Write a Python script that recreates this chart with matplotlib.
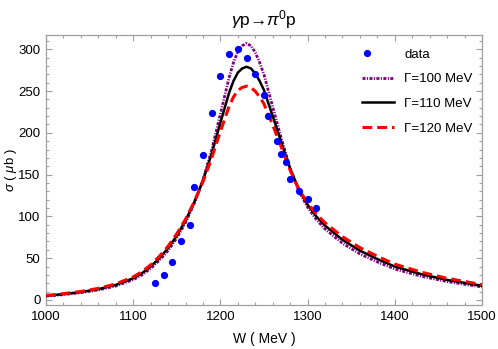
import matplotlib
matplotlib.use("Agg")
import matplotlib.pyplot as plt
from matplotlib.ticker import MultipleLocator
from matplotlib.legend_handler import HandlerLine2D

plt.rcParams['font.family'] = ['Liberation Sans', 'DejaVu Sans']
plt.rcParams['mathtext.fontset'] = 'custom'
plt.rcParams['mathtext.rm'] = 'Liberation Sans'
plt.rcParams['mathtext.it'] = 'Liberation Sans:italic'
plt.rcParams['lines.scale_dashes'] = False

# ---- data ----
data_W = [1125, 1135, 1145, 1155, 1165, 1170, 1180, 1190, 1200, 1210, 1220,
          1230, 1240, 1250, 1255, 1265, 1270, 1275, 1280, 1290, 1300, 1310]
data_sigma = [20, 30, 45, 70, 90, 135, 174, 224, 268, 294, 300,
              290, 270, 245, 220, 190, 175, 165, 145, 130, 121, 110]

curve_W = [1000, 1020, 1040, 1060, 1080, 1100, 1110, 1120, 1130, 1140, 1150,
           1160, 1170, 1180, 1190, 1200, 1210, 1215, 1220, 1225, 1230, 1235,
           1240, 1245, 1250, 1260, 1270, 1280, 1290, 1300, 1310, 1320, 1340,
           1360, 1380, 1400, 1430, 1460, 1500]
sigma_G100 = [4.6, 6.4, 8.8, 12.0, 16.7, 24.3, 30.0, 37.7, 47.4, 59.1, 74.1,
              92.5, 115.5, 143.6, 179.4, 222.5, 266.3, 284.1, 297.2, 304.1, 306.9, 304.1,
              296.1, 284.1, 269.5, 230.9, 192.8, 157.7, 130.3, 111.0, 96.3, 84.9, 67.8,
              55.1, 45.5, 37.0, 28.5, 22.0, 15.6]
sigma_G110 = [5, 7, 9.5, 13, 18, 26, 32, 40, 50, 62, 77,
              95, 117, 143, 175, 212, 248, 262, 272, 277, 279, 277,
              271, 262, 251, 220, 188, 157, 132, 114, 100, 89, 72,
              59, 49, 40, 31, 24, 17]
sigma_G120 = [5.4, 7.6, 10.2, 13.9, 19.2, 27.6, 33.8, 42.0, 52.2, 64.3, 79.2,
              96.6, 117.4, 141.3, 169.8, 201.7, 231.7, 242.8, 250.6, 254.3, 255.8, 254.3,
              249.7, 242.8, 234.5, 209.3, 182.4, 155.1, 132.5, 116.0, 102.8, 92.3, 75.7,
              62.6, 52.3, 42.9, 33.4, 25.9, 18.4]

labels = ['data', 'Γ=100 MeV', 'Γ=110 MeV', 'Γ=120 MeV']


class LeftMarkerHandler(HandlerLine2D):
    def get_xdata(self, legend, xdescent, ydescent, width, height, fontsize):
        x = [0.14 * width - xdescent]
        return x, x


fig = plt.figure(figsize=(4.98, 3.49), dpi=100)
ax = fig.add_axes([46/498, 1-305/349, (482-46)/498, (305-35)/349])

ax.plot(curve_W, sigma_G100, color='#800080', lw=2.0, dashes=(2.2, 1.0, 0.8, 1.0),
        label=labels[1], zorder=3)
ax.plot(curve_W, sigma_G110, color='black', lw=1.8, label=labels[2], zorder=4)
ax.plot(curve_W, sigma_G120, color='#ff0000', lw=2.2, dashes=(7.0, 3.6),
        label=labels[3], zorder=5)
pts, = ax.plot(data_W, data_sigma, 'o', color='#0000ff', ms=5.2, mec='none',
               label=labels[0], zorder=6)

ax.set_xlim(1000, 1500)
ax.set_ylim(-6, 317)
ax.xaxis.set_major_locator(MultipleLocator(100))
ax.xaxis.set_minor_locator(MultipleLocator(20))
ax.yaxis.set_major_locator(MultipleLocator(50))
ax.yaxis.set_minor_locator(MultipleLocator(10))
ax.tick_params(which='both', direction='in', top=True, right=True,
               color='#a0a0a0', labelsize=9.5, labelcolor='black', width=0.8)
ax.tick_params(which='major', length=4, pad=4)
ax.tick_params(which='minor', length=2.2)
for s in ax.spines.values():
    s.set_color('#a0a0a0')
    s.set_linewidth(0.9)

ax.set_xlabel('W ( MeV )', fontsize=10, labelpad=7)
ax.set_ylabel(r'$\sigma$ ( $\mu$b )', fontsize=9.5)
ax.yaxis.set_label_coords(-0.062, 0.5)
ax.set_title(r'$\gamma$p→$\pi$$^{0}$p', fontsize=12.5, pad=7)

h, l = ax.get_legend_handles_labels()
order = [3, 0, 1, 2]
leg = ax.legend([h[i] for i in order], [l[i] for i in order], loc='upper right',
                bbox_to_anchor=(1.0, 0.985), frameon=False, fontsize=9.5,
                handlelength=2.4, handletextpad=0.8, labelspacing=0.95, borderaxespad=0.3,
                handler_map={pts: LeftMarkerHandler(numpoints=2)})

fig.savefig('out.png', dpi=100)
